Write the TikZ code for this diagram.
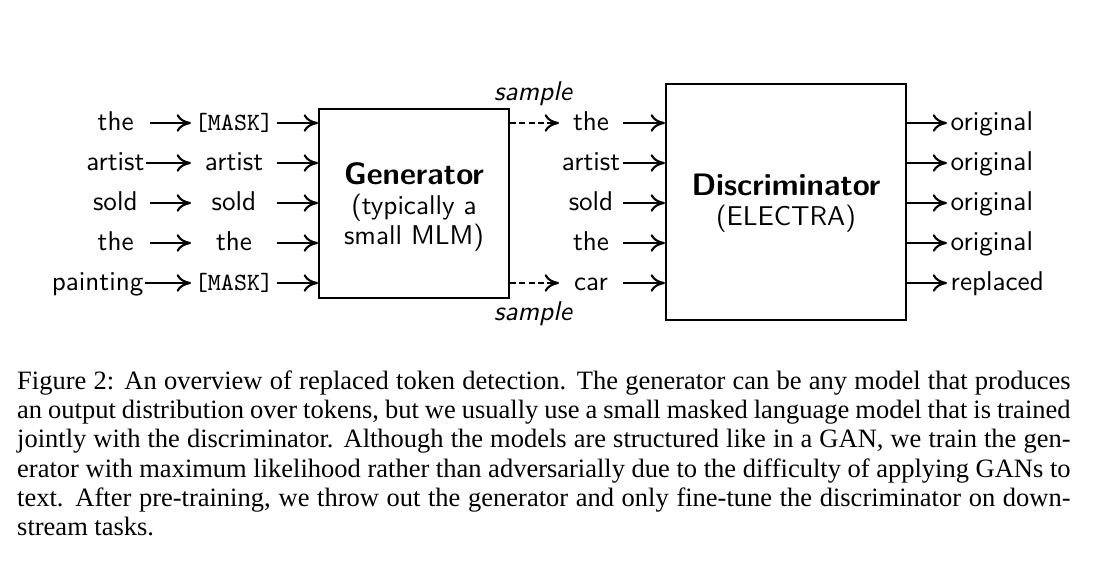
\documentclass[tikz,border=0pt]{standalone}
\usepackage{fontspec}
\newfontfamily\capfont{Liberation Serif}
\usetikzlibrary{arrows.meta}
\newcommand{\masktok}{{\ttfamily\fontsize{9.35}{10}\selectfont[MASK]}}
\begin{document}
\begin{tikzpicture}[x=0.3774pt, y=-0.3774pt]
\tikzset{tok/.style={inner sep=0pt, text height=7.5pt, text depth=2.2pt, font=\sffamily\fontsize{10.25}{10}\selectfont},
  colA/.style={tok, minimum width=25.7pt}, colB/.style={tok, minimum width=32.1pt},
  colC/.style={tok, minimum width=23.8pt}, colD/.style={tok, anchor=west, inner xsep=1.2pt},
  blk/.style={draw, thick, inner sep=0pt},
  lbl/.style={align=center, inner sep=0pt, font=\sffamily\fontsize{10.25}{9.3}\selectfont},
  smp/.style={anchor=base, inner sep=0pt, font=\sffamily\itshape\fontsize{10.25}{10}\selectfont},
  arr/.style={thick, -{Computer Modern Rightarrow[length=5.4pt, width=6.6pt]}},
  dsh/.style={arr, dash pattern=on 2.3pt off 1.2pt}}
\useasboundingbox (0,0) rectangle (1110,575);
% input tokens
\node[colA] (I1) at (115.7,123) {the};
\node[tok, inner xsep=.4pt] (I2) at (115.3,163) {artist};
\node[colA] (I3) at (115.3,203) {sold};
\node[colA] (I4) at (115.7,243) {the};
\node[tok, inner xsep=.4pt, anchor=east] (I5) at (145,283) {painting};
% masked tokens
\node[colB] (M1) at (234,123) {\masktok};
\node[colB] (M2) at (234,163) {artist};
\node[colB] (M3) at (234,203) {sold};
\node[colB] (M4) at (234,243) {the};
\node[colB] (M5) at (234,283) {\masktok};
% the two models
\node[blk, minimum width=71.7pt, minimum height=71.3pt] (G) at (414,203.5) {};
\node[lbl] (GT) at ([yshift=-1.3pt]G.center)
  {{\bfseries\fontsize{11.7}{10}\selectfont Generator}\\[2.1pt] (typically a\\ small MLM)};
\node[blk, minimum width=90.6pt, minimum height=89.1pt] (D) at (786,202) {};
\node[lbl] (DT) at ([yshift=-0.3pt]D.center)
  {{\bfseries\fontsize{11.7}{10}\selectfont Discriminator}\\[2.1pt] (ELECTRA)};
% sampled tokens
\node[colC] (S1) at (591,123) {the};
\node[colC] (S2) at (591,163) {artist};
\node[colC] (S3) at (591,203) {sold};
\node[colC] (S4) at (591,243) {the};
\node[colC] (S5) at (591,283) {car};
\node[smp] (ST) at (533,100.3) {sample};
\node[smp] (SB) at (533,320.3) {sample};
% outputs
\node[colD] (O1) at (947,123) {original};
\node[colD] (O2) at (947,163) {original};
\node[colD] (O3) at (947,203) {original};
\node[colD] (O4) at (947,243) {original};
\node[colD] (O5) at (947,283) {replaced};

\draw[arr] (I1) -- (M1);
\draw[arr] (I2) -- (M2);
\draw[arr] (I3) -- (M3);
\draw[arr] (I4) -- (M4);
\draw[arr] (I5) -- (M5);
\draw[arr] (M1) -- (M1 -| G.west);
\draw[arr] (M2) -- (M2 -| G.west);
\draw[arr] (M3) -- (M3 -| G.west);
\draw[arr] (M4) -- (M4 -| G.west);
\draw[arr] (M5) -- (M5 -| G.west);
\draw[dsh] (G.east |- S1) -- (S1);
\draw[dsh] (G.east |- S5) -- (S5);
\draw[arr] (S1) -- (S1 -| D.west);
\draw[arr] (S2) -- (S2 -| D.west);
\draw[arr] (S3) -- (S3 -| D.west);
\draw[arr] (S4) -- (S4 -| D.west);
\draw[arr] (S5) -- (S5 -| D.west);
\draw[arr] (D.east |- O1) -- (O1);
\draw[arr] (D.east |- O2) -- (O2);
\draw[arr] (D.east |- O3) -- (O3);
\draw[arr] (D.east |- O4) -- (O4);
\draw[arr] (D.east |- O5) -- (O5);

% caption
\node[anchor=north west, inner sep=0pt, text width=397.5pt, align=justify,
  font=\capfont\fontsize{10}{11}\selectfont] (C) at (16.7,370.4)
  {\hyphenpenalty=10000 Figure 2: An overview of replaced token detection. The generator can be any model that produces\linebreak
  an output distribution over tokens, but we usually use a small masked language model that is trained\linebreak
  jointly with the discriminator. Although the models are structured like in a GAN, we train the gen-\linebreak
  erator with maximum likelihood rather than adversarially due to the difficulty of applying GANs to\linebreak
  text. After pre-training, we throw out the generator and only fine-tune the discriminator on down-\linebreak
  stream tasks.};
\end{tikzpicture}
\end{document}
